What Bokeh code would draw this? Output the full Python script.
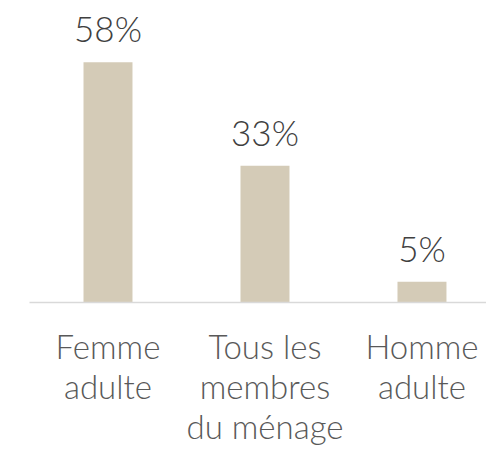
from bokeh.plotting import figure
from bokeh.models import ColumnDataSource, Range1d, FixedTicker
from bokeh.core.properties import value
from bokeh.embed import file_html
from bokeh.resources import INLINE

categories = ["Femme\nadulte", "Tous les\nmembres\ndu ménage", "Homme\nadulte"]
values = [58, 33, 5]
labels = ["58%", "33%", "5%"]

xs = list(range(len(categories)))
src = ColumnDataSource(dict(x=xs, top=values, label=labels))

FONT = "Lato Light"

p = figure(width=486, height=451, output_backend="svg", toolbar_location=None,
           x_range=Range1d(-0.5, 2.411), y_range=Range1d(0, 72.9),
           min_border_left=29, min_border_right=0, min_border_top=0,
           min_border_bottom=149)

p.vbar(x="x", top="top", width=0.312, bottom=0, source=src,
       fill_color="#D4CBB7", line_color=None)

p.text(x="x", y="top", text="label", source=src, text_align="center",
       text_baseline="alphabetic", y_offset=-34, text_font_size="35px",
       text_font=value(FONT), text_color="#404040")

p.yaxis.visible = False
p.xgrid.visible = False
p.ygrid.visible = False
p.outline_line_color = None

xa = p.xaxis[0]
xa.ticker = FixedTicker(ticks=xs)
xa.major_label_overrides = {i: c for i, c in zip(xs, categories)}
xa.major_tick_line_color = None
xa.minor_tick_line_color = None
xa.axis_line_color = "#D9D9D9"
xa.axis_line_width = 1.5
xa.major_label_text_font = FONT
xa.major_label_text_font_size = "33px"
xa.major_label_text_color = "#595959"
xa.major_label_text_line_height = 1.0
xa.major_label_standoff = 17

open("out.html", "w").write(file_html(p, INLINE))
